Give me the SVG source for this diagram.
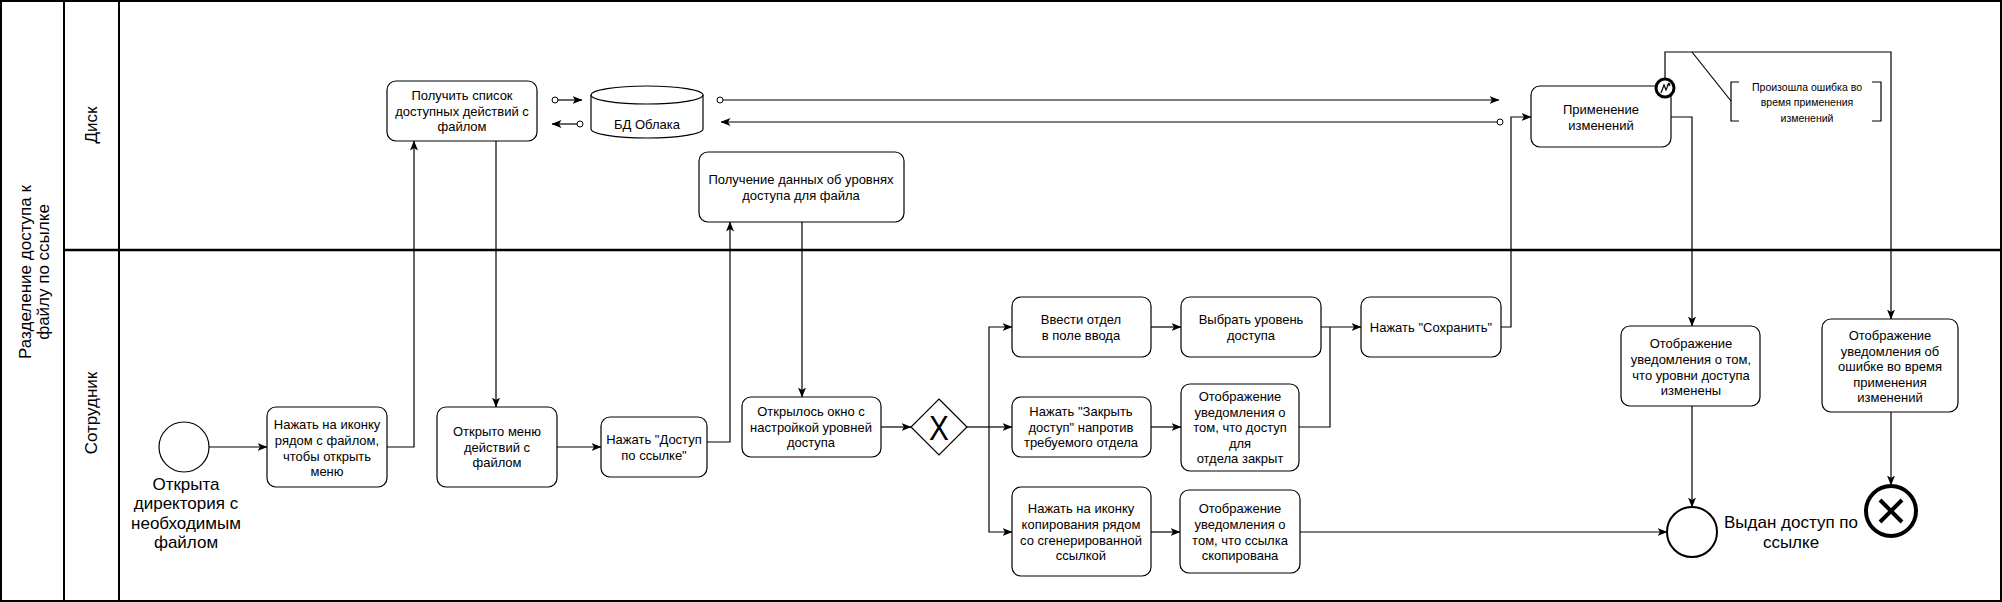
<svg xmlns="http://www.w3.org/2000/svg" width="2002" height="602" viewBox="0 0 2002 602">
<defs>
<style>
.box{fill:#fff;stroke:#000;stroke-width:1.2}
.t{font-family:"Liberation Sans",Arial,sans-serif;font-size:13px;fill:#000;text-anchor:middle}
.big{font-family:"Liberation Sans",Arial,sans-serif;font-size:17px;fill:#000;text-anchor:middle}
.lane{font-family:"Liberation Sans",Arial,sans-serif;font-size:17px;fill:#000;text-anchor:middle}
.sm{font-family:"Liberation Sans",Arial,sans-serif;font-size:10.5px;fill:#000;text-anchor:middle}
.c{fill:none;stroke:#000;stroke-width:1.2}
.pl{fill:none;stroke:#000;stroke-width:2}
</style>
<marker id="arr" viewBox="0 0 10 8" refX="9.5" refY="4" markerWidth="10" markerHeight="8" markerUnits="userSpaceOnUse" orient="auto">
<path d="M0,0 L10,4 L0,8 L2.5,4 z" fill="#000"/>
</marker>
<marker id="dot" viewBox="0 0 8 8" refX="4" refY="4" markerWidth="8" markerHeight="8" markerUnits="userSpaceOnUse" orient="auto">
<circle cx="4" cy="4" r="3" fill="#fff" stroke="#000" stroke-width="1"/>
</marker>
</defs>
<rect x="0" y="0" width="2002" height="602" fill="#fff"/>

<g id="pool">
<rect x="1" y="1" width="2000" height="600" class="pl"/>
<line x1="64" y1="1" x2="64" y2="601" class="pl"/>
<line x1="119" y1="1" x2="119" y2="601" class="pl"/>
<line x1="64" y1="250" x2="2001" y2="250" stroke="#000" stroke-width="2.5"/>
<text class="lane" transform="translate(31,272) rotate(-90)"><tspan x="0" y="0">Разделение доступа к</tspan><tspan x="0" dy="18">файлу по ссылке</tspan></text>
<text class="lane" transform="translate(97,125) rotate(-90)">Диск</text>
<text class="lane" transform="translate(97,413) rotate(-90)">Сотрудник</text>
</g>

<g id="connectors">
<path class="c" d="M209,447 L267,447" marker-end="url(#arr)"/>
<path class="c" d="M387,447 L414,447 L414,141" marker-end="url(#arr)"/>
<path class="c" d="M496,141 L496,407" marker-end="url(#arr)"/>
<path class="c" d="M557,447 L601,447" marker-end="url(#arr)"/>
<path class="c" d="M707,442 L730,442 L730,222" marker-end="url(#arr)"/>
<path class="c" d="M802,222 L802,397" marker-end="url(#arr)"/>
<path class="c" d="M881,427 L911,427" marker-end="url(#arr)"/>
<path class="c" d="M967,427 L989,427"/>
<path class="c" d="M989,427 L989,327 L1012,327" marker-end="url(#arr)"/>
<path class="c" d="M989,427 L1012,427" marker-end="url(#arr)"/>
<path class="c" d="M989,427 L989,532 L1012,532" marker-end="url(#arr)"/>
<path class="c" d="M1151,327 L1181,327" marker-end="url(#arr)"/>
<path class="c" d="M1151,427 L1181,427" marker-end="url(#arr)"/>
<path class="c" d="M1151,532 L1180,532" marker-end="url(#arr)"/>
<path class="c" d="M1321,327 L1361,327" marker-end="url(#arr)"/>
<path class="c" d="M1299,427 L1330,427 L1330,327"/>
<path class="c" d="M1501,327 L1511,327 L1511,117 L1531,117" marker-end="url(#arr)"/>
<path class="c" d="M555,100 L582,100" marker-start="url(#dot)" marker-end="url(#arr)"/>
<path class="c" d="M580,124 L552,124" marker-start="url(#dot)" marker-end="url(#arr)"/>
<path class="c" d="M720,100 L1499,100" marker-start="url(#dot)" marker-end="url(#arr)"/>
<path class="c" d="M1500,122 L721,122" marker-start="url(#dot)" marker-end="url(#arr)"/>
<path class="c" d="M1671,117 L1692,117 L1692,326" marker-end="url(#arr)"/>
<path class="c" d="M1692,406 L1692,507" marker-end="url(#arr)"/>
<path class="c" d="M1300,532 L1667,532" marker-end="url(#arr)"/>
<path class="c" d="M1665,79 L1665,52 L1891,52 L1891,319" marker-end="url(#arr)"/>
<path class="c" d="M1891,412 L1891,485" marker-end="url(#arr)"/>
<path class="c" d="M1692,52 L1731,101" stroke-width="1"/>
</g>

<g id="get_actions">
<rect class="box" x="387" y="81" width="150" height="60" rx="9"/>
<text class="t" x="462" y="100">Получить список</text>
<text class="t" x="462" y="116">доступных действий с</text>
<text class="t" x="462" y="131">файлом</text>
</g>

<g id="db">
<path class="box" d="M591,95 A56,9 0 0 1 703,95 L703,129 A56,9 0 0 1 591,129 Z"/>
<path class="c" d="M591,95 A56,9 0 0 0 703,95"/>
<text class="t" x="647" y="129">БД Облака</text>
</g>

<g id="get_levels">
<rect class="box" x="699" y="152" width="205" height="70" rx="9"/>
<text class="t" x="801" y="184">Получение данных об уровнях</text>
<text class="t" x="801" y="200">доступа для файла</text>
</g>

<g id="apply">
<rect class="box" x="1531" y="86" width="140" height="61" rx="9"/>
<text class="t" x="1601" y="114">Применение</text>
<text class="t" x="1601" y="130">изменений</text>
</g>

<g id="boundary_error">
<circle cx="1665" cy="88" r="9" fill="#fff" stroke="#000" stroke-width="3"/>
<path d="M1661,93 L1664,85 L1666,90 L1669,83 M1669,83 L1667,86 M1669,83 L1670,86" fill="none" stroke="#000" stroke-width="1.2"/>
</g>

<g id="annotation">
<path class="c" stroke-width="1" d="M1739,82 L1731,82 L1731,121 L1739,121"/>
<path class="c" stroke-width="1" d="M1872,82 L1881,82 L1881,121 L1872,121"/>
<text class="sm" x="1807" y="91">Произошла ошибка во</text>
<text class="sm" x="1807" y="106">время применения</text>
<text class="sm" x="1807" y="122">изменений</text>
</g>

<g id="start">
<circle cx="184" cy="447" r="25" fill="#fff" stroke="#000" stroke-width="1.2"/>
<text class="big" x="186" y="490">Открыта</text>
<text class="big" x="186" y="509">директория с</text>
<text class="big" x="186" y="529">необходимым</text>
<text class="big" x="186" y="548">файлом</text>
</g>

<g id="click_icon">
<rect class="box" x="267" y="407" width="120" height="80" rx="9"/>
<text class="t" x="327" y="429">Нажать на иконку</text>
<text class="t" x="327" y="445">рядом с файлом,</text>
<text class="t" x="327" y="461">чтобы открыть</text>
<text class="t" x="327" y="476">меню</text>
</g>

<g id="menu_open">
<rect class="box" x="437" y="407" width="120" height="80" rx="9"/>
<text class="t" x="497" y="436">Открыто меню</text>
<text class="t" x="497" y="452">действий с</text>
<text class="t" x="497" y="467">файлом</text>
</g>

<g id="click_link">
<rect class="box" x="601" y="417" width="106" height="60" rx="9"/>
<text class="t" x="654" y="444">Нажать "Доступ</text>
<text class="t" x="654" y="460">по ссылке"</text>
</g>

<g id="window_open">
<rect class="box" x="742" y="397" width="139" height="60" rx="9"/>
<text class="t" x="811" y="416">Открылось окно с</text>
<text class="t" x="811" y="432">настройкой уровней</text>
<text class="t" x="811" y="447">доступа</text>
</g>

<g id="gateway">
<path d="M939,399 L967,427 L939,455 L911,427 Z" fill="#fff" stroke="#000" stroke-width="1.2"/>
<text x="939" y="440" font-family="Liberation Sans,Arial,sans-serif" font-size="35" text-anchor="middle" transform="translate(939,0) scale(0.85,1) translate(-939,0)">X</text>
</g>

<g id="enter_dept">
<rect class="box" x="1012" y="297" width="139" height="60" rx="9"/>
<text class="t" x="1081" y="324">Ввести отдел</text>
<text class="t" x="1081" y="340">в поле ввода</text>
</g>

<g id="close_access">
<rect class="box" x="1012" y="397" width="139" height="60" rx="9"/>
<text class="t" x="1081" y="416">Нажать "Закрыть</text>
<text class="t" x="1081" y="432">доступ" напротив</text>
<text class="t" x="1081" y="447">требуемого отдела</text>
</g>

<g id="copy_icon">
<rect class="box" x="1012" y="487" width="139" height="89" rx="9"/>
<text class="t" x="1081" y="513">Нажать на иконку</text>
<text class="t" x="1081" y="529">копирования рядом</text>
<text class="t" x="1081" y="545">со сгенерированной</text>
<text class="t" x="1081" y="560">ссылкой</text>
</g>

<g id="choose_level">
<rect class="box" x="1181" y="297" width="140" height="60" rx="9"/>
<text class="t" x="1251" y="324">Выбрать уровень</text>
<text class="t" x="1251" y="340">доступа</text>
</g>

<g id="closed_notif">
<rect class="box" x="1181" y="384" width="118" height="87" rx="9"/>
<text class="t" x="1240" y="401">Отображение</text>
<text class="t" x="1240" y="417">уведомления о</text>
<text class="t" x="1240" y="432">том, что доступ</text>
<text class="t" x="1240" y="448">для</text>
<text class="t" x="1240" y="463">отдела закрыт</text>
</g>

<g id="copied_notif">
<rect class="box" x="1180" y="490" width="120" height="83" rx="9"/>
<text class="t" x="1240" y="513">Отображение</text>
<text class="t" x="1240" y="529">уведомления о</text>
<text class="t" x="1240" y="545">том, что ссылка</text>
<text class="t" x="1240" y="560">скопирована</text>
</g>

<g id="save">
<rect class="box" x="1361" y="297" width="140" height="60" rx="9"/>
<text class="t" x="1431" y="332">Нажать "Сохранить"</text>
</g>

<g id="changed_notif">
<rect class="box" x="1621" y="326" width="139" height="80" rx="9"/>
<text class="t" x="1691" y="348">Отображение</text>
<text class="t" x="1691" y="364">уведомления о том,</text>
<text class="t" x="1691" y="380">что уровни доступа</text>
<text class="t" x="1691" y="395">изменены</text>
</g>

<g id="error_notif">
<rect class="box" x="1822" y="319" width="136" height="93" rx="9"/>
<text class="t" x="1890" y="340">Отображение</text>
<text class="t" x="1890" y="356">уведомления об</text>
<text class="t" x="1890" y="371">ошибке во время</text>
<text class="t" x="1890" y="387">применения</text>
<text class="t" x="1890" y="402">изменений</text>
</g>

<g id="end">
<circle cx="1692" cy="532" r="25" fill="#fff" stroke="#000" stroke-width="2"/>
<text class="big" x="1791" y="528">Выдан доступ по</text>
<text class="big" x="1791" y="548">ссылке</text>
</g>

<g id="error_end">
<circle cx="1891" cy="511" r="25" fill="#fff" stroke="#000" stroke-width="4"/>
<path d="M1880,500 L1902,522 M1902,500 L1880,522" stroke="#000" stroke-width="4"/>
</g>
</svg>
